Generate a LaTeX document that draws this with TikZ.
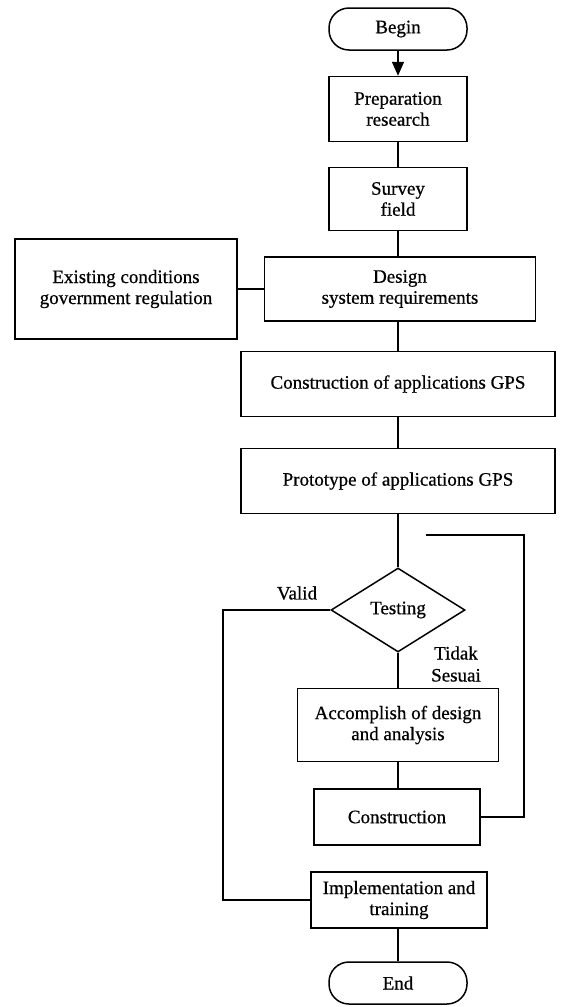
\documentclass[tikz,border=0pt]{standalone}
\usepackage{fontspec}
\setmainfont{Liberation Serif}[FakeBold=0.6]
\usetikzlibrary{arrows.meta, shapes.geometric}

\begin{document}
\begin{tikzpicture}[x=1pt, y=-1pt, line width=1.5pt,
  every node/.style={font=\fontsize{19}{21}\selectfont},
  box/.style={draw, align=center, inner sep=0pt},
  term/.style={draw, rounded corners=20pt, inner sep=0pt,
    minimum width=138pt, minimum height=42pt},
  decision/.style={draw, diamond, aspect=1.6, inner sep=0pt,
    minimum width=134pt, minimum height=84pt}]
  \useasboundingbox (0,0) rectangle (560,1007);

  \node[term] (begin) at (398,29) {Begin};
  \node[box, minimum width=138pt, minimum height=65pt] (prep) at (398,109) {Preparation\\research};
  \node[box, minimum width=138pt, minimum height=63pt] (survey) at (398,199) {Survey\\field};
  \node[box, minimum width=271pt, minimum height=64pt] (design) at (400,289) {Design\\system requirements};
  \node[box, minimum width=222pt, minimum height=100pt] (exist) at (126,289) {Existing conditions\\government regulation};
  \node[box, minimum width=314pt, minimum height=65pt] (cons) at (398,384) {Construction of applications GPS};
  \node[box, minimum width=314pt, minimum height=65pt] (proto) at (398,481) {Prototype of applications GPS};
  \node[decision] (test) at (398,610) {Testing};
  \node[box, minimum width=201pt, minimum height=73pt] (accomp) at (398,725) {Accomplish of design\\and analysis};
  \node[box, minimum width=166pt, minimum height=56pt] (constr) at (397,817) {Construction};
  \node[box, minimum width=176pt, minimum height=56pt] (impl) at (399,900) {Implementation and\\training};
  \node[term] (end) at (398,983) {End};

  \node (valid) at (297,593) {Valid};
  \node[align=center, font=\fontsize{19}{22}\selectfont] (tidak) at (456,664) {Tidak\\Sesuai};

  \coordinate (vcorner) at (223,610);
  \coordinate (lcorner) at (524,535);
  \coordinate (lend) at (426,535);

  \draw[-{Triangle[length=14pt, width=12pt]}] (begin) -- (prep);
  \draw (prep) -- (survey);
  \draw (survey) -- (survey |- design.north);
  \draw (cons |- design.south) -- (cons);
  \draw (exist) -- (design);
  \draw (cons) -- (proto);
  \draw (proto) -- (test);
  \draw (test) -- (accomp);
  \draw (accomp) -- (accomp |- constr.north);
  \draw (impl.south -| end) -- (end);
  \draw (test.west) -- (vcorner) |- (impl.west);
  \draw (constr.east) -| (lcorner) -- (lend);
\end{tikzpicture}
\end{document}
